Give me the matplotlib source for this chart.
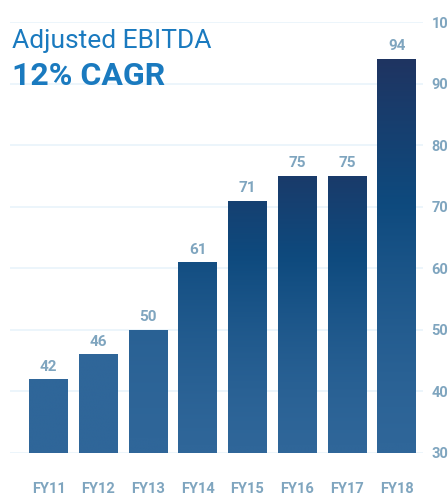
import numpy as np
import matplotlib
matplotlib.use('Agg')
import matplotlib.pyplot as plt
from matplotlib.colors import LinearSegmentedColormap

plt.rcParams['font.family'] = ['Roboto', 'DejaVu Sans']

years = ['FY11', 'FY12', 'FY13', 'FY14', 'FY15', 'FY16', 'FY17', 'FY18']
ebitda = [42, 46, 50, 61, 71, 75, 75, 94]
yticks = [30, 40, 50, 60, 70, 80, 90, 100]

label_color = '#7fa5bf'
title_color = '#1a7abf'
grid_color = '#eaf4fb'
bar_cmap = LinearSegmentedColormap.from_list(
    'bars', ['#2f6699', '#0e4a7e', '#1f3461'])

fig = plt.figure(figsize=(4.48, 4.95), dpi=100)
ax = fig.add_axes([10 / 448, 42 / 495, 413 / 448, 431 / 495])

x = np.arange(len(years))
bars = ax.bar(x, ebitda, width=0.78, bottom=0, color='none', zorder=2)

ymin, ymax = 30, 100

# vertical gradient per bar, darker the taller the bar
for rect, v in zip(bars, ebitda):
    x0 = rect.get_x()
    w = rect.get_width()
    k = np.clip((v - 47) / (80 - 47), 0, 1)
    frac = np.linspace(0, 1, 256)[:, None]
    img = bar_cmap(k * frac ** 1.5)
    im = ax.imshow(img, extent=(x0, x0 + w, ymin, v), origin='lower',
                   aspect='auto', zorder=2, interpolation='bilinear')
    im.set_clip_path(rect)
    ax.annotate(str(v), (x0 + w / 2, v), xytext=(0, 4), textcoords='offset points',
                ha='center', va='bottom', fontsize=11, fontweight='bold',
                color=label_color)

ax.set_xlim(-0.775, 7.53)
ax.set_ylim(ymin, ymax)

for t in yticks:
    ax.axhline(t, color=grid_color, lw=1.3, zorder=0)

ax.yaxis.tick_right()
ax.set_yticks(yticks)
ax.set_yticklabels([str(t) for t in yticks])
ax.tick_params(axis='y', length=0, pad=6, labelsize=10.5, labelcolor=label_color)
for lab in ax.get_yticklabels():
    lab.set_fontweight('bold')

ax.set_xticks(x)
ax.set_xticklabels(years)
ax.tick_params(axis='x', length=0, pad=21, labelsize=10.5, labelcolor=label_color)
for lab in ax.get_xticklabels():
    lab.set_fontweight('bold')

for s in ax.spines.values():
    s.set_visible(False)

fig.text(12 / 448, 1 - 48 / 495, 'Adjusted EBITDA', fontsize=19,
         color=title_color, ha='left', va='baseline')
fig.text(12 / 448, 1 - 85 / 495, '12% CAGR', fontsize=23, fontweight='bold',
         color=title_color, ha='left', va='baseline')

fig.savefig('out.png', dpi=100)
